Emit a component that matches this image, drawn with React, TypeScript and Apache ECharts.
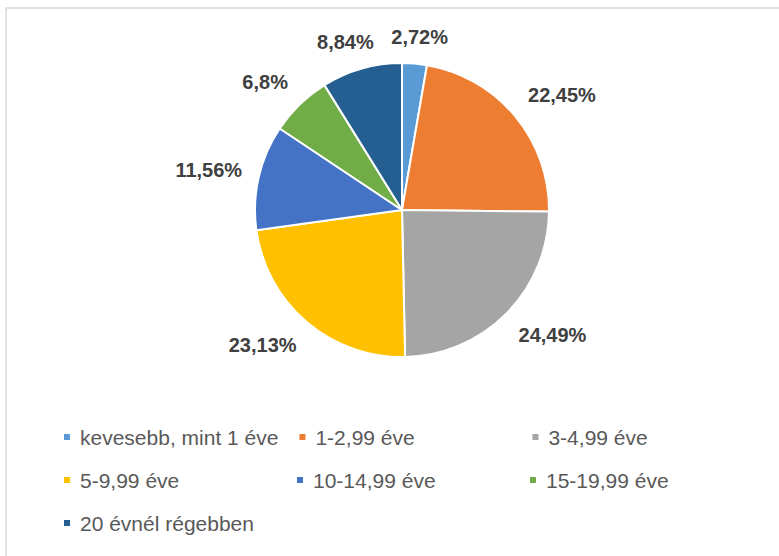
import React, { useEffect, useRef } from "react";
import * as echarts from "echarts";

const categories = [
  "kevesebb, mint 1 éve",
  "1-2,99 éve",
  "3-4,99 éve",
  "5-9,99 éve",
  "10-14,99 éve",
  "15-19,99 éve",
  "20 évnél régebben",
];
const values = [2.72, 22.45, 24.49, 23.13, 11.56, 6.8, 8.84];
const colors = ["#5B9BD5", "#ED7D31", "#A5A5A5", "#FFC000", "#4472C4", "#70AD47", "#255E91"];

const FONT = "'Liberation Sans', Arial, sans-serif";
const CX = 402;
const CY = 210;
const R = 147;
const LABEL_R = 164;

const clamp = (v: number) => Math.max(-1, Math.min(1, v));

export default function App() {
  const ref = useRef<HTMLDivElement>(null);
  useEffect(() => {
    if (!ref.current) return;
    const chart = echarts.init(ref.current, undefined, { renderer: "svg" });
    const total = values.reduce((a, b) => a + b, 0);
    chart.setOption({
      animation: false,
      backgroundColor: "#ffffff",
      graphic: [
        {
          type: "rect",
          shape: { x: 6, y: 8, width: 800, height: 600 },
          style: { fill: "#ffffff", stroke: "#d9d9d9", lineWidth: 1.5 },
          z: -10,
        },
      ],
      legend: {
        data: categories,
        left: 57,
        top: 420,
        width: 720,
        orient: "horizontal",
        itemWidth: 8,
        itemHeight: 8,
        itemGap: 19,
        icon: "rect",
        textStyle: {
          fontFamily: FONT,
          fontSize: 21,
          color: "#595959",
          width: 196,
          overflow: "none",
          lineHeight: 24,
          padding: [0, 0, 0, 4],
        },
      },
      series: [
        {
          type: "pie",
          center: [CX, CY],
          radius: R,
          startAngle: 90,
          clockwise: true,
          avoidLabelOverlap: false,
          itemStyle: { borderColor: "#ffffff", borderWidth: 2 },
          label: {
            show: true,
            position: "outside",
            fontFamily: FONT,
            fontSize: 20,
            fontWeight: "bold",
            color: "#404040",
            formatter: (p: any) => String(p.value).replace(".", ",") + "%",
          },
          labelLine: { show: false },
          labelLayout: (p: any) => {
            const i = p.dataIndex;
            let before = 0;
            for (let k = 0; k < i; k++) before += values[k];
            const mid = ((before + values[i] / 2) / total) * Math.PI * 2;
            const s = Math.sin(mid);
            const c = Math.cos(mid);
            const hw = p.labelRect.width / 2;
            const hh = p.labelRect.height / 2;
            const x = CX + s * LABEL_R + hw * clamp(s * 1.5);
            const y = CY - c * LABEL_R - hh * clamp(c * 1.5);
            return { x, y, align: "center", verticalAlign: "middle" };
          },
          data: categories.map((name, i) => ({
            name,
            value: values[i],
            itemStyle: { color: colors[i] },
          })),
        },
      ],
    });
    return () => chart.dispose();
  }, []);
  return (
    <div
      ref={ref}
      style={{ position: "fixed", left: 0, top: 0, width: 779, height: 556 }}
    />
  );
}
